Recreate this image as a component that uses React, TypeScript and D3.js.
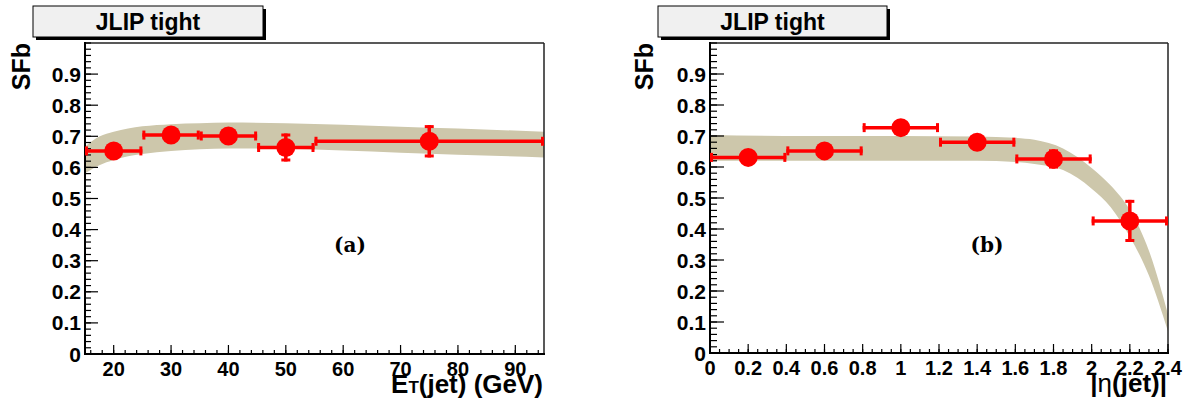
import React from "react";
import * as d3 from "d3";

// ---------- Data: panel (a) SFb vs E_T ----------
const ET_CENTER = [20, 30, 40, 50, 75];
const ET_LOW = [15, 25, 35, 45, 55];
const ET_HIGH = [25, 35, 45, 55, 95];
const SFB_ET = [0.653, 0.704, 0.701, 0.664, 0.684];
const SFB_ET_ERR = [0.02, 0.02, 0.026, 0.045, 0.052];

const ET_BAND_X = [15, 17.5, 20, 22.5, 25, 30, 35, 40, 50, 60, 70, 80, 95];
const ET_BAND_HI = [0.667, 0.699, 0.715, 0.725, 0.732, 0.739, 0.742, 0.744, 0.742, 0.737, 0.731, 0.725, 0.715];
const ET_BAND_LO = [0.581, 0.607, 0.624, 0.636, 0.643, 0.653, 0.658, 0.661, 0.66, 0.654, 0.647, 0.641, 0.632];

// ---------- Data: panel (b) SFb vs |eta| ----------
const ETA_CENTER = [0.2, 0.6, 1.0, 1.4, 1.8, 2.2];
const ETA_LOW = [0, 0.4, 0.8, 1.2, 1.6, 2.0];
const ETA_HIGH = [0.4, 0.8, 1.2, 1.6, 2.0, 2.4];
const SFB_ETA = [0.631, 0.652, 0.727, 0.68, 0.626, 0.426];
const SFB_ETA_ERR = [0.015, 0.015, 0.015, 0.015, 0.031, 0.068];

const ETA_BAND_X = [0, 0.5, 1.0, 1.4, 1.6, 1.7, 1.85, 2.0, 2.1, 2.2, 2.3, 2.4];
const ETA_BAND_HI = [0.703, 0.7, 0.7, 0.698, 0.694, 0.688, 0.66, 0.597, 0.54, 0.461, 0.33, 0.125];
const ETA_BAND_LO = [0.62, 0.62, 0.62, 0.62, 0.616, 0.61, 0.59, 0.53, 0.47, 0.375, 0.25, 0.07];

const TITLE = "JLIP tight";
const Y_TITLE = "SFb";

const FONT = "'Liberation Sans', Arial, Helvetica, sans-serif";
const BAND_COLOR = "#cdc7ab";
const RED = "#ff0000";

type PanelProps = {
  left: number;
  right: number;
  top: number;
  bottom: number;
  xDomain: [number, number];
  xMajorStep: number;
  xMinorStep: number;
  xFmt: (v: number) => string;
  centers: number[];
  lows: number[];
  highs: number[];
  vals: number[];
  errs: number[];
  bandX: number[];
  bandHi: number[];
  bandLo: number[];
  boxX0: number;
  boxX1: number;
  yTitleX: number;
  tag: string;
  tagX: number;
  xTitle: React.ReactNode;
  id: string;
  yTickMajor: number;
  yTickMinor: number;
};

function Panel(p: PanelProps) {
  const x = d3.scaleLinear().domain(p.xDomain).range([p.left, p.right]);
  const y = d3.scaleLinear().domain([0, 1]).range([p.bottom, p.top]);
  const eps = 1e-9;
  const xMajor = d3.range(
    Math.ceil(p.xDomain[0] / p.xMajorStep - eps) * p.xMajorStep,
    p.xDomain[1] + eps,
    p.xMajorStep
  );
  const xMinor = d3.range(
    Math.ceil(p.xDomain[0] / p.xMinorStep - eps) * p.xMinorStep,
    p.xDomain[1] + eps,
    p.xMinorStep
  );
  const yMajor = d3.range(0, 0.9 + eps, 0.1);
  const yMinor = d3.range(0, 1 + eps, 0.02);

  const bandData = p.bandX.map((v, i) => ({ x: v, hi: p.bandHi[i], lo: p.bandLo[i] }));
  const area = d3
    .area<{ x: number; hi: number; lo: number }>()
    .x((d) => x(d.x))
    .y0((d) => y(d.lo))
    .y1((d) => y(d.hi))
    .curve(d3.curveMonotoneX);

  const cap = 4.5;
  return (
    <g>
      <defs>
        <clipPath id={p.id}>
          <rect x={p.left} y={p.top} width={p.right - p.left} height={p.bottom - p.top} />
        </clipPath>
      </defs>
      {/* band */}
      <path d={area(bandData) || ""} fill={BAND_COLOR} clipPath={`url(#${p.id})`} />
      {/* frame */}
      <line x1={p.left} x2={p.right} y1={p.top} y2={p.top} stroke="#222" strokeWidth={1.5} />
      <line x1={p.right} x2={p.right} y1={p.top} y2={p.bottom} stroke="#222" strokeWidth={1.5} />
      {/* y axis */}
      <line x1={p.left} x2={p.left} y1={p.top - 1} y2={p.bottom + 1} stroke="#000" strokeWidth={2} />
      {yMinor.map((v, i) => (
        <line key={"ym" + i} x1={p.left} x2={p.left + p.yTickMinor} y1={y(v)} y2={y(v)} stroke="#000" strokeWidth={1.2} />
      ))}
      {yMajor.map((v, i) => (
        <g key={"yM" + i}>
          <line x1={p.left} x2={p.left + p.yTickMajor} y1={y(v)} y2={y(v)} stroke="#000" strokeWidth={1.2} />
          <text
            x={p.left - 4}
            y={y(v)}
            dy="0.36em"
            textAnchor="end"
            fontFamily={FONT}
            fontWeight="bold"
            fontSize={21}
            fill="#000"
          >
            {String(+v.toFixed(1))}
          </text>
        </g>
      ))}
      {/* x axis */}
      <line x1={p.left - 1} x2={p.right + 1} y1={p.bottom} y2={p.bottom} stroke="#000" strokeWidth={2} />
      {xMinor.map((v, i) => (
        <line key={"xm" + i} x1={x(v)} x2={x(v)} y1={p.bottom} y2={p.bottom - 4} stroke="#000" strokeWidth={1.2} />
      ))}
      {xMajor.map((v, i) => (
        <g key={"xM" + i}>
          <line x1={x(v)} x2={x(v)} y1={p.bottom} y2={p.bottom - 9} stroke="#000" strokeWidth={1.2} />
          <text
            x={x(v)}
            y={p.bottom + 22}
            textAnchor="middle"
            fontFamily={FONT}
            fontWeight="bold"
            fontSize={20}
            fill="#000"
          >
            {p.xFmt(v)}
          </text>
        </g>
      ))}
      {/* x title */}
      <text
        x={p.right - 1}
        y={p.bottom + 39}
        textAnchor="end"
        fontFamily={FONT}
        fontWeight="bold"
        fontSize={26}
        fill="#000"
      >
        {p.xTitle}
      </text>
      {/* y title */}
      <text
        transform={`translate(${p.yTitleX},${p.top}) rotate(-90)`}
        textAnchor="end"
        fontFamily={FONT}
        fontWeight="bold"
        fontSize={25}
        fill="#000"
      >
        {Y_TITLE}
      </text>
      {/* points */}
      <g>
        {p.centers.map((c, i) => {
          const cy = y(p.vals[i]);
          const x0 = x(p.lows[i]);
          const x1 = x(p.highs[i]);
          const y0 = y(p.vals[i] - p.errs[i]);
          const y1 = y(p.vals[i] + p.errs[i]);
          return (
            <g key={"pt" + i}>
              <line x1={x0} x2={x1} y1={cy} y2={cy} stroke={RED} strokeWidth={3.5} />
              <line x1={x0 + 1.5} x2={x0 + 1.5} y1={cy - cap} y2={cy + cap} stroke={RED} strokeWidth={3} />
              <line x1={x1 - 1.5} x2={x1 - 1.5} y1={cy - cap} y2={cy + cap} stroke={RED} strokeWidth={3} />
              <line x1={x(c)} x2={x(c)} y1={y0} y2={y1} stroke={RED} strokeWidth={3.5} />
              <line x1={x(c) - cap} x2={x(c) + cap} y1={y0 - 1.5} y2={y0 - 1.5} stroke={RED} strokeWidth={3} />
              <line x1={x(c) - cap} x2={x(c) + cap} y1={y1 + 1.5} y2={y1 + 1.5} stroke={RED} strokeWidth={3} />
              <circle cx={x(c)} cy={cy} r={9.5} fill={RED} />
            </g>
          );
        })}
      </g>
      {/* tag */}
      <text
        x={p.tagX}
        y={252}
        textAnchor="middle"
        fontFamily="'DejaVu Serif', 'Liberation Serif', serif"
        fontWeight="bold"
        fontSize={20}
        fill="#000"
      >
        {p.tag}
      </text>
      {/* title box */}
      <rect x={p.boxX0 + 3} y={9} width={p.boxX1 - p.boxX0} height={31} fill="#000" />
      <rect x={p.boxX0} y={6} width={p.boxX1 - p.boxX0} height={31} fill="#f0f0f0" stroke="#000" strokeWidth={1} />
      <text
        x={(p.boxX0 + p.boxX1) / 2}
        y={30}
        textAnchor="middle"
        fontFamily={FONT}
        fontWeight="bold"
        fontSize={23}
        fill="#000"
      >
        {TITLE}
      </text>
    </g>
  );
}

export default function App() {
  return (
    <svg
      width={1186}
      height={404}
      viewBox="0 0 1186 404"
      style={{ position: "absolute", left: 0, top: 0, background: "#fff" }}
    >
      <rect x={0} y={0} width={1186} height={404} fill="#fff" />
      <Panel
        id="clipA"
        left={85}
        right={544}
        top={43}
        bottom={354}
        xDomain={[15, 95]}
        xMajorStep={10}
        xMinorStep={2}
        xFmt={(v) => String(Math.round(v))}
        centers={ET_CENTER}
        lows={ET_LOW}
        highs={ET_HIGH}
        vals={SFB_ET}
        errs={SFB_ET_ERR}
        bandX={ET_BAND_X}
        bandHi={ET_BAND_HI}
        bandLo={ET_BAND_LO}
        boxX0={33}
        boxX1={263}
        yTitleX={30}
        tag="(a)"
        tagX={350}
        yTickMajor={13}
        yTickMinor={6}
        xTitle={
          <>
            E<tspan fontSize={17}>T</tspan>(jet) (GeV)
          </>
        }
      />
      <Panel
        id="clipB"
        left={710}
        right={1168}
        top={43}
        bottom={353}
        xDomain={[0, 2.4]}
        xMajorStep={0.2}
        xMinorStep={0.05}
        xFmt={(v) => String(+v.toFixed(1))}
        centers={ETA_CENTER}
        lows={ETA_LOW}
        highs={ETA_HIGH}
        vals={SFB_ETA}
        errs={SFB_ETA_ERR}
        bandX={ETA_BAND_X}
        bandHi={ETA_BAND_HI}
        bandLo={ETA_BAND_LO}
        boxX0={658}
        boxX1={887}
        yTitleX={653}
        tag="(b)"
        tagX={987}
        yTickMajor={14}
        yTickMinor={7}
        xTitle={
          <>
            |<tspan fontWeight="normal">η</tspan>(jet)|
          </>
        }
      />
    </svg>
  );
}
